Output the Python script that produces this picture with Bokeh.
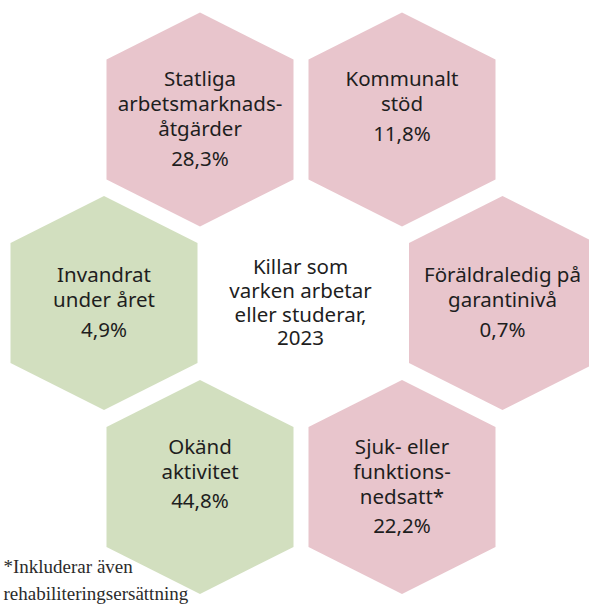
from bokeh.plotting import figure
from bokeh.models import ColumnDataSource, Range1d
from bokeh.core.properties import value
from bokeh.embed import file_html
from bokeh.resources import INLINE

# ---- data ----
categories = [
    "Statliga\narbetsmarknads-\nåtgärder",
    "Kommunalt\nstöd",
    "Invandrat\nunder året",
    "Föräldraledig på\ngarantinivå",
    "Okänd\naktivitet",
    "Sjuk- eller\nfunktions-\nnedsatt*",
]
shares = [28.3, 11.8, 4.9, 0.7, 44.8, 22.2]
groups = ["känd", "känd", "okänd", "känd", "okänd", "känd"]
grid_col = [-1, 1, -2, 2, -1, 1]
grid_row = [-1, -1, 0, 0, 1, 1]
title_lines = ["Killar som", "varken arbetar", "eller studerar,", "2023"]
footnote_lines = ["*Inkluderar även", "rehabiliteringsersättning"]

# ---- styling / layout (page pixels) ----
group_colors = {"känd": "#E8C5CC", "okänd": "#D2DFBF"}
COL_X = {-2: 103.5, -1: 199.5, 1: 401.5, 2: 502.0}
ROW_Y = {-1: 119.0, 0: 302.5, 1: 486.5}
CX, CY = 300.0, 302.5
HEX_W, HEX_TOP, HEX_SIDE = 93.5, 107.0, 60.0
LINE_H, PCT_GAP = 25.0, 29.5
NUDGE = -1.5
TXT = "#1e1e1e"
FONT = value("Noto Sans")
FSIZE = "20.5px"

W, H = 589, 615
p = figure(width=W, height=H, output_backend="svg", toolbar_location=None,
           x_range=Range1d(0, W), y_range=Range1d(H, 0),
           x_axis_location=None, y_axis_location=None, min_border=0)
p.grid.visible = False
p.outline_line_color = None
p.background_fill_color = "white"
p.border_fill_color = "white"

hx = [0, HEX_W, HEX_W, 0, -HEX_W, -HEX_W]
hy = [-HEX_TOP, -HEX_SIDE, HEX_SIDE, HEX_TOP, HEX_SIDE, -HEX_SIDE]

xs, ys, colors = [], [], []
tx, ty, tt = [], [], []
for cat, v, g, c, r in zip(categories, shares, groups, grid_col, grid_row):
    cx = COL_X[c]
    cy = ROW_Y[r]
    xs.append([cx + d for d in hx])
    ys.append([cy + d for d in hy])
    colors.append(group_colors[g])
    lines = cat.split("\n")
    block = (len(lines) - 1) * LINE_H + PCT_GAP
    if r == 0:
        y0 = cy - block / 2
    else:
        y0 = cy - (2 * LINE_H + PCT_GAP) / 2
    for i, ln in enumerate(lines):
        tx.append(cx)
        ty.append(y0 + i * LINE_H + NUDGE)
        tt.append(ln)
    tx.append(cx)
    ty.append(y0 + (len(lines) - 1) * LINE_H + PCT_GAP + NUDGE)
    tt.append(f"{v:.1f}".replace(".", ",") + "%")

p.patches(xs="xs", ys="ys", fill_color="colors", line_color=None,
          source=ColumnDataSource(dict(xs=xs, ys=ys, colors=colors)))

p.text(x="x", y="y", text="t", source=ColumnDataSource(dict(x=tx, y=ty, t=tt)),
       text_font=FONT, text_font_size=FSIZE, text_color=TXT,
       text_align="center", text_baseline="middle")

n = len(title_lines)
cty = [CY + NUDGE + (i - (n - 1) / 2) * 24.0 for i in range(n)]
p.text(x=[CX] * n, y=cty, text=title_lines,
       text_font=FONT, text_font_size=FSIZE, text_color=TXT,
       text_align="center", text_baseline="middle")

p.text(x=[3, 3], y=[566, 593], text=footnote_lines,
       text_font=value("Liberation Serif"), text_font_size="19px",
       text_color="#2b2b2b", text_align="left", text_baseline="middle")

open("out.html", "w").write(file_html(p, INLINE))
